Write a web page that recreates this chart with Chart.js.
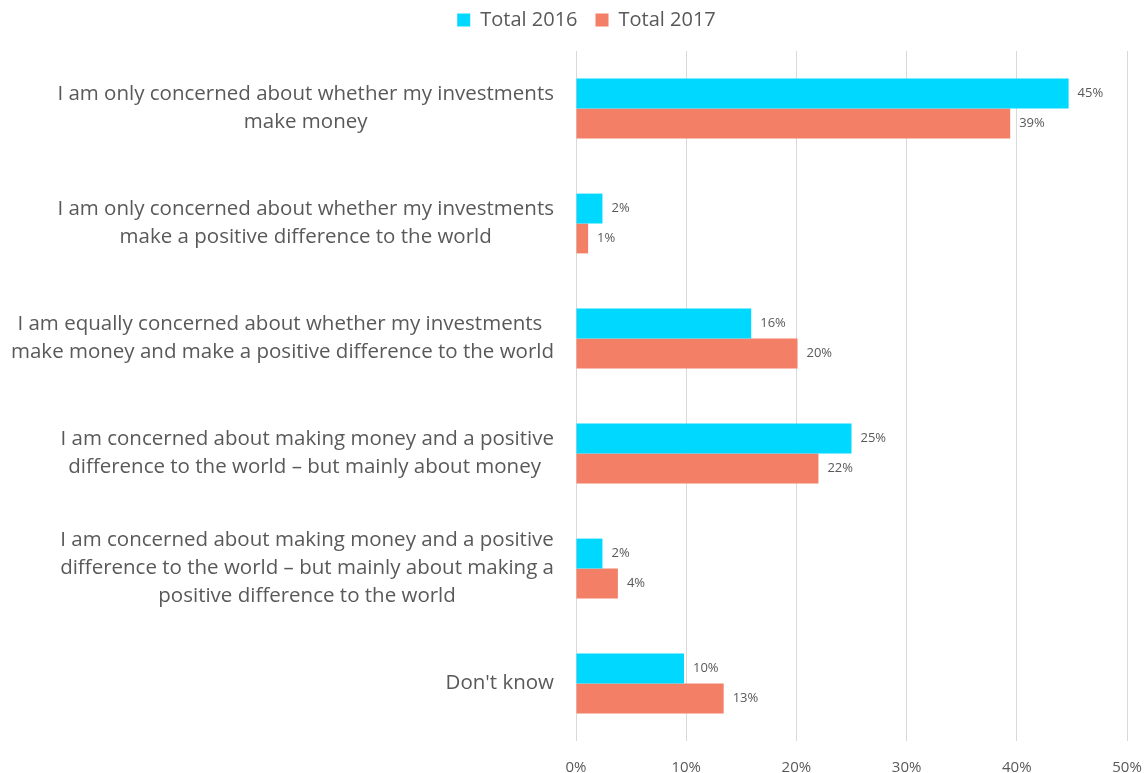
<!DOCTYPE html>
<html>
<head>
<meta charset="utf-8">
<script src="https://cdn.jsdelivr.net/npm/chart.js@4.4.0/dist/chart.umd.min.js"></script>
<style>
  body { margin: 0; background: #fff; }
  #wrap { width: 1147px; height: 773px; }
</style>
</head>
<body>
<div id="wrap">
  <canvas id="myChart" width="1147" height="773"></canvas>
</div>
<script>
// survey answers (each entry = lines of the axis label)
const answers = [
  ['I am only concerned about whether my investments', 'make money'],
  ['I am only concerned about whether my investments', 'make a positive difference to the world'],
  ['I am equally concerned about whether my investments ', 'make money and make a positive difference to the world'],
  ['I am concerned about making money and a positive', 'difference to the world \u2013 but mainly about money '],
  ['I am concerned about making money and a positive', 'difference to the world \u2013 but mainly about making a', 'positive difference to the world'],
  ["Don't know"]
]
const total2016 = [44.7, 2.4, 15.9, 25.0, 2.4, 9.8]
const total2017 = [39.4, 1.1, 20.1, 22.0, 3.8, 13.4]
const xTicks = [0, 10, 20, 30, 40, 50]

const textGray = '#595959'
const family = '"Open Sans", Lato, sans-serif'
const labelFont = '20.5px ' + family

// category labels: block right-aligned to the axis, lines centered inside the block
const answerLabels = {
  id: 'answerLabels',
  afterDraw(chart) {
    const ctx = chart.ctx
    const yScale = chart.scales.y
    const right = chart.chartArea.left - 22
    const lineH = 28
    ctx.save()
    ctx.font = labelFont
    ctx.fillStyle = textGray
    ctx.textAlign = 'center'
    ctx.textBaseline = 'middle'
    answers.forEach((lines, i) => {
      const blockW = Math.max(...lines.map(l => ctx.measureText(l).width))
      const cx = right - blockW / 2
      const cy = yScale.getPixelForValue(i)
      const top = cy - (lines.length - 1) * lineH / 2
      lines.forEach((l, k) => ctx.fillText(l, cx, top + k * lineH))
    })
    ctx.restore()
  }
}

// value labels at the end of each bar
const barValues = {
  id: 'barValues',
  afterDatasetsDraw(chart) {
    const ctx = chart.ctx
    ctx.save()
    ctx.font = '13px ' + family
    ctx.fillStyle = textGray
    ctx.textAlign = 'left'
    ctx.textBaseline = 'middle'
    chart.data.datasets.forEach((ds, di) => {
      chart.getDatasetMeta(di).data.forEach((bar, i) => {
        ctx.fillText(Math.round(ds.data[i]) + '%', bar.x + 9, bar.y)
      })
    })
    ctx.restore()
  }
}

// fixed legend height so the plot starts right under it
const tightLegend = {
  id: 'tightLegend',
  beforeInit(chart) {
    const legend = chart.legend
    if (!legend) return
    const fit = legend.fit
    legend.fit = function () {
      fit.call(this)
      this.height = 59
    }
  }
}

const data = {
  labels: answers.map(a => a.join(' ')),
  datasets: [
    { label: 'Total 2016', data: total2016, backgroundColor: '#00D8FF' },
    { label: 'Total 2017', data: total2017, backgroundColor: '#F47F67' }
  ]
}

const config = {
  type: 'bar',
  data: data,
  plugins: [tightLegend, answerLabels, barValues],
  options: {
    indexAxis: 'y',
    responsive: false,
    animation: false,
    layout: { padding: { top: -8, right: 20, bottom: 0, left: 46 } },
    datasets: {
      bar: { categoryPercentage: 0.52, barPercentage: 1.0 }
    },
    plugins: {
      legend: {
        position: 'top',
        labels: {
          boxWidth: 13,
          boxHeight: 13,
          padding: 18,
          color: textGray,
          font: { family: family, size: 20 }
        }
      },
      tooltip: { enabled: false }
    },
    scales: {
      x: {
        min: 0,
        max: 50,
        afterBuildTicks: (scale) => { scale.ticks = xTicks.map(v => ({ value: v })) },
        afterFit: (scale) => {
          scale.height = 32
          scale.paddingLeft = 0
          scale.paddingRight = 0
        },
        grid: { color: '#D9D9D9', drawTicks: false },
        border: { display: false },
        ticks: {
          padding: 18,
          color: textGray,
          font: { family: family, size: 15 },
          callback: (v) => v + '%'
        }
      },
      y: {
        grid: { display: false },
        border: { display: false },
        ticks: { display: false },
        afterFit: (scale) => { scale.width = 530 }
      }
    }
  }
}

const myChart = new Chart(document.getElementById('myChart'), config)
</script>
</body>
</html>
